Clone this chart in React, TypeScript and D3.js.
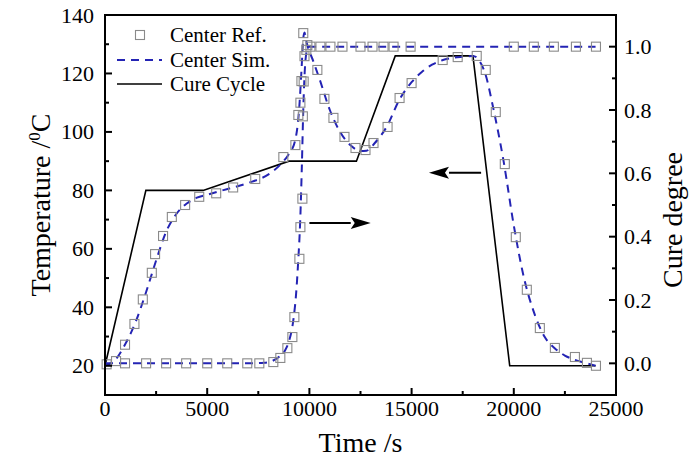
import React from "react";
import * as d3 from "d3";

// Time (s) axis ticks
const xTicks = [0, 5000, 10000, 15000, 20000, 25000];
const leftTicks = [20, 40, 60, 80, 100, 120, 140];
const rightTicks = [0.0, 0.2, 0.4, 0.6, 0.8, 1.0];

// Cure cycle (temperature, °C)
const cureCycle: [number, number][] = [
  [0, 20], [2000, 80], [4800, 80], [9000, 90], [12300, 90],
  [14200, 126], [18000, 126], [19800, 20], [24000, 20],
];

// Center Ref. temperature (squares, left axis)
const refTemp: [number, number][] = [
  [80, 20.5], [540, 21.6], [980, 27.2], [1440, 34.3], [1850, 42.7], [2290, 51.8],
  [2450, 58.2], [2840, 64.4], [3270, 70.9], [3920, 75], [4610, 77.8], [5440, 79],
  [6270, 81], [7350, 83.9], [8725, 91.4], [9314, 95.5], [9460, 105.8], [9560, 110],
  [9610, 117.4], [9700, 133.8], [9900, 129.7], [10390, 121.2], [10735, 111.3],
  [11176, 104.8], [11716, 98.3], [12255, 94.5], [12745, 93.8], [13137, 96.2],
  [13824, 101.7], [14412, 111.6], [15000, 116.7], [16520, 124.6], [17255, 125.6],
  [18186, 126], [18627, 121.2], [19118, 106.8], [19560, 89], [20098, 64],
  [20637, 46], [21274, 32.9], [22010, 26.1], [22990, 23], [23578, 21], [24020, 20],
];

// Center Ref. cure degree (squares, right axis)
const refCure: [number, number][] = [
  [980, 0], [2010, 0], [2990, 0], [3970, 0], [5000, 0], [5980, 0], [6960, 0],
  [7550, 0], [8235, 0.004], [8578, 0.017], [8922, 0.048], [9167, 0.083],
  [9265, 0.146], [9510, 0.33], [9560, 0.43], [9657, 0.52], [9680, 0.78],
  [9720, 0.89], [9760, 0.97], [9850, 0.99], [10049, 1], [10539, 1], [11029, 1],
  [11618, 1], [12500, 1], [13088, 1], [13627, 1], [14118, 1], [14951, 1],
  [20000, 1], [20980, 1], [21960, 1], [23039, 1], [24020, 1],
];

// Center Sim. temperature (dashed, left axis)
const simTemp: [number, number][] = [
  [0, 20], [500, 22], [1000, 27.5], [1500, 35], [2000, 45], [2500, 56], [3000, 66],
  [3500, 72], [4000, 75.5], [4500, 77.5], [5000, 78.5], [6000, 80.5], [7000, 82.5],
  [8000, 85.5], [8600, 89], [9000, 92.5], [9300, 97], [9500, 108], [9620, 122],
  [9700, 132], [9760, 134], [9850, 131], [10200, 124], [10500, 118], [11000, 107.5],
  [11500, 100], [12000, 95.5], [12500, 93.5], [12800, 93.6], [13200, 96.2],
  [13800, 102], [14400, 111], [15000, 117], [15500, 120.5], [16000, 123],
  [16500, 124.5], [17000, 125.3], [17500, 125.7], [18000, 126], [18300, 124.5],
  [18600, 120], [19000, 108], [19500, 90], [20000, 68], [20500, 50], [21000, 38],
  [21500, 30], [22000, 26], [22500, 23.5], [23000, 22], [23500, 21], [24000, 20],
];

// Center Sim. cure degree (dashed, right axis)
const simCure: [number, number][] = [
  [0, 0], [7000, 0], [7800, 0.002], [8200, 0.008], [8500, 0.02], [8800, 0.04],
  [9000, 0.07], [9200, 0.13], [9350, 0.22], [9450, 0.32], [9550, 0.45],
  [9630, 0.62], [9700, 0.8], [9770, 0.92], [9850, 0.98], [9950, 1.0], [24000, 1.0],
];

// Annotation arrows (data coordinates: time, temperature)
const arrowRight: [number, number][] = [[10000, 68.8], [13000, 68.8]];
const arrowLeft: [number, number][] = [[18400, 86], [15850, 86]];

const W = 691, H = 466;
const M = { left: 105, right: 616, top: 15, bottom: 395 };
const FONT = "'Liberation Serif', 'Times New Roman', serif";
const BLUE = "#2424b4";

export default function App() {
  const x = d3.scaleLinear().domain([0, 25000]).range([M.left, M.right]);
  const yL = d3.scaleLinear().domain([10, 140]).range([M.bottom, M.top]);
  const yR = d3.scaleLinear().domain([-0.1, 1.1]).range([M.bottom, M.top]);

  const lineL = d3.line<[number, number]>().x(d => x(d[0])).y(d => yL(d[1]));
  const lineLs = d3.line<[number, number]>().x(d => x(d[0])).y(d => yL(d[1])).curve(d3.curveMonotoneX);
  const lineRs = d3.line<[number, number]>().x(d => x(d[0])).y(d => yR(d[1])).curve(d3.curveMonotoneX);

  const xMinor = d3.range(2500, 25000, 5000);
  const lMinor = d3.range(30, 140, 20);
  const rMinor = [0.1, 0.3, 0.5, 0.7, 0.9];
  const sq = 9;

  const arrow = (pts: [number, number][], key: string) => {
    const x0 = x(pts[0][0]), x1 = x(pts[1][0]), yy = yL(pts[0][1]);
    const dir = Math.sign(x1 - x0);
    const headLen = 20, headW = 6;
    return (
      <g key={key}>
        <line x1={x0} y1={yy} x2={x1 - dir * headLen} y2={yy} stroke="#000" strokeWidth={2} />
        <path d={`M${x1},${yy} L${x1 - dir * headLen},${yy - headW} L${x1 - dir * headLen * 0.8},${yy} L${x1 - dir * headLen},${yy + headW} Z`} fill="#000" />
      </g>
    );
  };

  return (
    <svg width={W} height={H} style={{ position: "absolute", left: 0, top: 0, background: "#fff" }} fontFamily={FONT}>
      <rect width={W} height={H} fill="#fff" />
      {/* data */}
      <path d={lineL(cureCycle) || ""} fill="none" stroke="#000" strokeWidth={1.6} />
      <path d={lineLs(simTemp) || ""} fill="none" stroke={BLUE} strokeWidth={2} strokeDasharray="8,6" />
      <path d={lineRs(simCure) || ""} fill="none" stroke={BLUE} strokeWidth={2} strokeDasharray="8,6" />
      {refTemp.map((d, i) => (
        <rect key={"t" + i} x={x(d[0]) - sq / 2} y={yL(d[1]) - sq / 2} width={sq} height={sq} fill="none" stroke="#8a8a8a" strokeWidth={1.1} />
      ))}
      {refCure.map((d, i) => (
        <rect key={"c" + i} x={x(d[0]) - sq / 2} y={yR(d[1]) - sq / 2} width={sq} height={sq} fill="none" stroke="#8a8a8a" strokeWidth={1.1} />
      ))}
      {arrow(arrowRight, "ar")}
      {arrow(arrowLeft, "al")}

      {/* frame */}
      <rect x={M.left} y={M.top} width={M.right - M.left} height={M.bottom - M.top} fill="none" stroke="#000" strokeWidth={2} />

      {/* x ticks */}
      {xTicks.map(t => (
        <g key={"xt" + t}>
          <line x1={x(t)} x2={x(t)} y1={M.bottom} y2={M.bottom - 7} stroke="#000" strokeWidth={2} />
          <text x={x(t)} y={416} fontSize={22} textAnchor="middle">{t}</text>
        </g>
      ))}
      {xMinor.map(t => (
        <line key={"xm" + t} x1={x(t)} x2={x(t)} y1={M.bottom} y2={M.bottom - 4} stroke="#000" strokeWidth={2} />
      ))}

      {/* left ticks */}
      {leftTicks.map(t => (
        <g key={"lt" + t}>
          <line x1={M.left} x2={M.left + 7} y1={yL(t)} y2={yL(t)} stroke="#000" strokeWidth={2} />
          <text x={94} y={yL(t) + 7.5} fontSize={22} textAnchor="end">{t}</text>
        </g>
      ))}
      {lMinor.map(t => (
        <line key={"lm" + t} x1={M.left} x2={M.left + 4} y1={yL(t)} y2={yL(t)} stroke="#000" strokeWidth={2} />
      ))}

      {/* right ticks */}
      {rightTicks.map(t => (
        <g key={"rt" + t}>
          <line x1={M.right} x2={M.right - 7} y1={yR(t)} y2={yR(t)} stroke="#000" strokeWidth={2} />
          <text x={624} y={yR(t) + 7.5} fontSize={22} textAnchor="start">{t.toFixed(1)}</text>
        </g>
      ))}
      {rMinor.map(t => (
        <line key={"rm" + t} x1={M.right} x2={M.right - 4} y1={yR(t)} y2={yR(t)} stroke="#000" strokeWidth={2} />
      ))}

      {/* axis titles */}
      <text x={(M.left + M.right) / 2} y={452} fontSize={28} textAnchor="middle">Time /s</text>
      <text transform={`translate(50,${(M.top + M.bottom) / 2}) rotate(-90)`} fontSize={28} textAnchor="middle">
        Temperature /<tspan fontSize={17} dy={-10}>0</tspan><tspan dy={10}>C</tspan>
      </text>
      <text transform={`translate(682,${(M.top + M.bottom) / 2 + 15}) rotate(-90)`} fontSize={28} textAnchor="middle">Cure degree</text>

      {/* legend */}
      <rect x={140 - sq / 2} y={35 - sq / 2} width={sq} height={sq} fill="none" stroke="#8a8a8a" strokeWidth={1.1} />
      <text x={170} y={42} fontSize={21}>Center Ref.</text>
      <line x1={117} x2={162} y1={60} y2={60} stroke={BLUE} strokeWidth={2} strokeDasharray="8,6" />
      <text x={170} y={67} fontSize={21}>Center Sim.</text>
      <line x1={117} x2={162} y1={84} y2={84} stroke="#000" strokeWidth={1.6} />
      <text x={170} y={91} fontSize={21}>Cure Cycle</text>
    </svg>
  );
}
